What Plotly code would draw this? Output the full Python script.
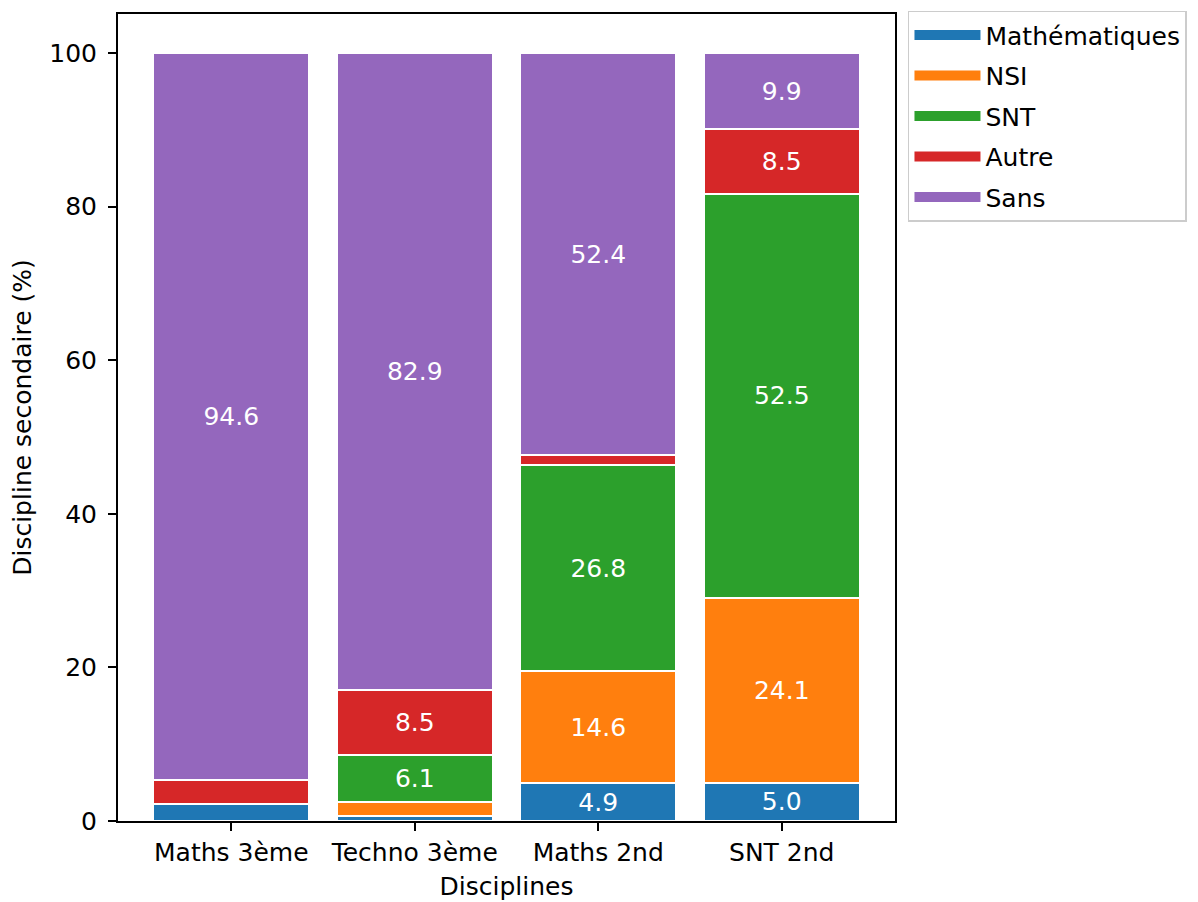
import plotly.graph_objects as go

categories = ["Maths 3ème", "Techno 3ème", "Maths 2nd", "SNT 2nd"]
series_names = ["Mathématiques", "NSI", "SNT", "Autre", "Sans"]
mathematiques = [2.2, 0.6, 4.9, 5.0]
nsi = [0.0, 1.9, 14.6, 24.1]
snt = [0.0, 6.1, 26.8, 52.5]
autre = [3.2, 8.5, 1.3, 8.5]
sans = [94.6, 82.9, 52.4, 9.9]
colors = ["#1f77b4", "#ff7f0e", "#2ca02c", "#d62728", "#9467bd"]
label_threshold = 4.0

FONT = "DejaVu Sans"
fig = go.Figure()
for name, vals, col in zip(series_names, [mathematiques, nsi, snt, autre, sans], colors):
    txt = [f"{v:.1f}" if v >= label_threshold else "" for v in vals]
    fig.add_trace(go.Bar(
        x=list(range(len(categories))), y=vals, name=name,
        marker=dict(color=col, line=dict(color="white", width=2)),
        width=0.85,
        text=txt, textposition="inside", insidetextanchor="middle",
        textangle=0, constraintext="none",
        textfont=dict(family=FONT, size=25, color="white"),
        legendgroup=name, hoverinfo="skip", showlegend=False,
    ))
    # legend-only entry drawn as a wide swatch (matplotlib-like)
    fig.add_trace(go.Scatter(
        x=[None], y=[None], mode="lines", name=name,
        line=dict(color=col, width=16), legendgroup=name, hoverinfo="skip",
    ))

# page body has an 8px margin: shift/shrink figure accordingly
fig.update_layout(
    barmode="stack",
    width=1190, height=894,
    margin=dict(l=110, r=303, t=6, b=81, autoexpand=False),
    paper_bgcolor="white", plot_bgcolor="white",
    font=dict(family=FONT, size=25, color="black"),
    showlegend=True,
    legend=dict(
        x=1.0167, y=1.004, xanchor="left", yanchor="top",
        bordercolor="#cccccc", borderwidth=1.5,
        font=dict(family=FONT, size=25, color="black"),
        tracegroupgap=5, traceorder="grouped", itemwidth=66,
    ),
)
fig.update_xaxes(
    range=[-0.6175, 3.6175],
    tickmode="array", tickvals=list(range(len(categories))), ticktext=categories,
    showline=True, linecolor="black", linewidth=2, mirror=True,
    ticks="outside", ticklen=8, tickwidth=2, tickcolor="black",
    showgrid=False, zeroline=False,
    title=dict(text="Disciplines", standoff=11, font=dict(size=25)),
    tickfont=dict(size=25),
)
fig.update_yaxes(
    range=[0, 105.08],
    tickvals=[0, 20, 40, 60, 80, 100],
    showline=True, linecolor="black", linewidth=2, mirror=True,
    ticks="outside", ticklen=8, tickwidth=2, tickcolor="black",
    showgrid=False, zeroline=False, ticklabelstandoff=6,
    title=dict(text="Discipline secondaire (%)", standoff=12, font=dict(size=25)),
    tickfont=dict(size=25),
)

fig.write_html("out.html")
